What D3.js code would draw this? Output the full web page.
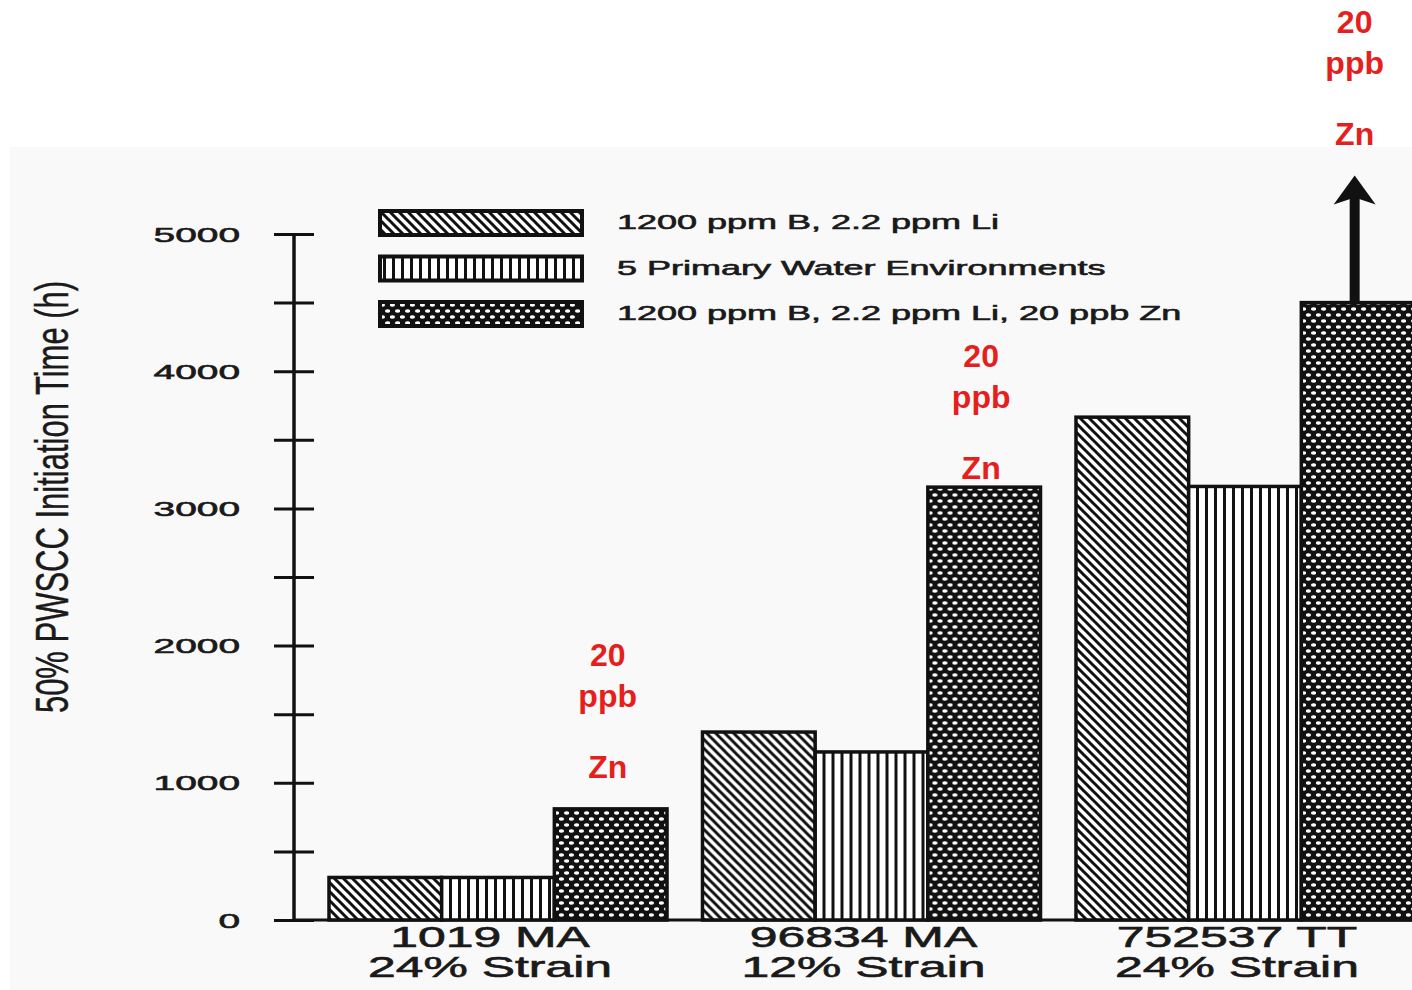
<!DOCTYPE html>
<html>
<head>
<meta charset="utf-8">
<script src="https://cdn.jsdelivr.net/npm/d3@7"></script>
<style>
  body { margin: 0; background: #fff; }
  svg text { font-family: "Liberation Sans", Arial, sans-serif; }
  .ink { fill: #1a1a1a; stroke: #1a1a1a; stroke-width: 0.6px; }
</style>
</head>
<body>
<svg id="chart" width="1412" height="990"></svg>
<script>
// data
var categories = ["1019 MA", "96834 MA", "752537 TT"];
var strains = ["24% Strain", "12% Strain", "24% Strain"];
var seriesNames = ["1200 ppm B, 2.2 ppm Li", "5 Primary Water Environments", "1200 ppm B, 2.2 ppm Li, 20 ppb Zn"];
var boronLithium = [310, 1370, 3665];
var primaryWater = [310, 1225, 3160];
var zincAdded = [810, 3155, 4500];
var majorTicks = [0, 1000, 2000, 3000, 4000, 5000];
var minorTicks = [500, 1500, 2500, 3500, 4500];
var zincNote = ["20", "ppb", "Zn"];

var seriesValues = [boronLithium, primaryWater, zincAdded];
var patternIds = ["diag", "vert", "dots"];
var red = "#e5201c";

var svg = d3.select("#chart"),
    width = +svg.attr("width"),
    height = +svg.attr("height");

// faint scan background
svg.append("rect")
    .attr("x", 10).attr("y", 147)
    .attr("width", width - 10).attr("height", height - 147)
    .attr("fill", "#f9f9f9");

var defs = svg.append("defs");

var diag = defs.append("pattern")
    .attr("id", "diag")
    .attr("patternUnits", "userSpaceOnUse")
    .attr("width", 9).attr("height", 9);
diag.append("rect").attr("width", 9).attr("height", 9).attr("fill", "#fff");
diag.append("path")
    .attr("d", "M-1,-1 L10,10 M-1,8 L1,10 M8,-1 L10,1")
    .attr("stroke", "#111").attr("stroke-width", 3);

var vert = defs.append("pattern")
    .attr("id", "vert")
    .attr("patternUnits", "userSpaceOnUse")
    .attr("width", 9).attr("height", 9);
vert.append("rect").attr("width", 9).attr("height", 9).attr("fill", "#fff");
vert.append("rect").attr("x", 3).attr("width", 3).attr("height", 9).attr("fill", "#111");

var dots = defs.append("pattern")
    .attr("id", "dots")
    .attr("patternUnits", "userSpaceOnUse")
    .attr("width", 10).attr("height", 12);
dots.append("rect").attr("width", 10).attr("height", 12).attr("fill", "#111");
dots.append("ellipse").attr("cx", 2.5).attr("cy", 3).attr("rx", 2.6).attr("ry", 1.8).attr("fill", "#fff");
dots.append("ellipse").attr("cx", 7.5).attr("cy", 9).attr("rx", 2.6).attr("ry", 1.8).attr("fill", "#fff");

var axisX = 294;

var y = d3.scaleLinear()
    .domain([0, 5000])
    .range([920, 234]);

var x0 = d3.scaleBand()
    .domain(categories)
    .range([329, 1414])
    .paddingInner(0.095)
    .paddingOuter(0);

var x1 = d3.scaleBand()
    .domain([0, 1, 2])
    .range([0, x0.bandwidth()])
    .padding(0);

// baseline
svg.append("line")
    .attr("x1", axisX).attr("x2", width)
    .attr("y1", y(0)).attr("y2", y(0))
    .attr("stroke", "#111").attr("stroke-width", 3);

// bars
var groups = svg.append("g")
    .selectAll("g")
    .data(categories)
    .enter().append("g")
    .attr("transform", function (d) {
        return "translate(" + x0(d) + ",0)";
    });

groups.selectAll("rect")
    .data(function (d, i) {
        return seriesValues.map(function (vals, s) {
            return { s: s, v: vals[i] };
        });
    })
    .enter().append("rect")
    .attr("x", function (d) { return x1(d.s); })
    .attr("width", x1.bandwidth())
    .attr("y", function (d) { return y(d.v); })
    .attr("height", function (d) { return y(0) - y(d.v); })
    .attr("fill", function (d) { return "url(#" + patternIds[d.s] + ")"; })
    .attr("stroke", "#111")
    .attr("stroke-width", 3.5);

// y axis, drawn as in the figure: ticks crossing the spine
var axisG = svg.append("g")
    .attr("transform", "translate(" + (axisX + 20) + ",0)")
    .call(d3.axisLeft(y).tickValues(majorTicks.concat(minorTicks)).tickSize(40).tickFormat(""));
axisG.select(".domain").remove();
axisG.selectAll(".tick line").attr("stroke", "#111").attr("stroke-width", 3);

svg.append("line")
    .attr("x1", axisX).attr("x2", axisX)
    .attr("y1", y(5000)).attr("y2", y(0))
    .attr("stroke", "#111").attr("stroke-width", 3.5);

svg.append("g")
    .selectAll("text")
    .data(majorTicks)
    .enter().append("text")
    .attr("class", "ink")
    .attr("transform", function (d) {
        return "translate(240," + (y(d) + 7.5) + ") scale(1.85,1)";
    })
    .attr("text-anchor", "end")
    .style("font-size", "21px")
    .text(function (d) { return d; });

// y axis title
svg.append("text")
    .attr("class", "ink")
    .attr("transform", "translate(68,497) scale(1.5,1) rotate(-90)")
    .attr("text-anchor", "middle")
    .style("stroke-width", "0.3px")
    .style("font-size", "31px")
    .text("50% PWSCC Initiation Time (h)");

// category labels
var catLabels = svg.append("g")
    .selectAll("g")
    .data(categories)
    .enter().append("g");

catLabels.append("text")
    .attr("class", "ink")
    .attr("transform", function (d) {
        return "translate(" + (x0(d) + x0.bandwidth() / 2 - 8) + ",947) scale(1.72,1)";
    })
    .attr("text-anchor", "middle")
    .style("font-size", "29px")
    .text(function (d) { return d; });

catLabels.append("text")
    .attr("class", "ink")
    .attr("transform", function (d, i) {
        return "translate(" + (x0(d) + x0.bandwidth() / 2 - 8) + ",977) scale(1.72,1)";
    })
    .attr("text-anchor", "middle")
    .style("font-size", "29px")
    .text(function (d, i) { return strains[i]; });

// legend
var legend = svg.append("g")
    .selectAll("g")
    .data(seriesNames)
    .enter().append("g")
    .attr("transform", function (d, i) {
        return "translate(380," + (211 + i * 45.5) + ")";
    });

legend.append("rect")
    .attr("width", 202)
    .attr("height", 24)
    .attr("fill", function (d, i) { return "url(#" + patternIds[i] + ")"; })
    .attr("stroke", "#111")
    .attr("stroke-width", 4);

legend.append("text")
    .attr("class", "ink")
    .attr("transform", "translate(237,18) scale(1.8,1)")
    .style("font-size", "20px")
    .text(function (d) { return d; });

// arrow above the last zinc bar (value is a lower bound)
var lastCat = categories[categories.length - 1];
var arrowX = x0(lastCat) + x1(2) + x1.bandwidth() / 2 - 3;
var arrowBase = y(zincAdded[zincAdded.length - 1]);
var arrowTip = arrowBase - 127;

svg.append("line")
    .attr("x1", arrowX).attr("x2", arrowX)
    .attr("y1", arrowBase).attr("y2", arrowTip + 20)
    .attr("stroke", "#111").attr("stroke-width", 10);

svg.append("path")
    .attr("d", "M" + (arrowX - 21) + "," + (arrowTip + 29) +
        " L" + arrowX + "," + arrowTip +
        " L" + (arrowX + 21) + "," + (arrowTip + 29) +
        " L" + arrowX + "," + (arrowTip + 22) + " Z")
    .attr("fill", "#111");

// red zinc annotations
var noteG = svg.append("g")
    .selectAll("g")
    .data(categories)
    .enter().append("g")
    .attr("transform", function (d, i) {
        var top = y(zincAdded[i]);
        if (i === categories.length - 1) {
            top = arrowTip;
        }
        var anchor = top - (i === 1 ? 8 : 31);
        return "translate(" + (x0(d) + x1(2) + x1.bandwidth() / 2 - 3) + "," + anchor + ")";
    });

noteG.selectAll("text")
    .data(zincNote)
    .enter().append("text")
    .attr("y", function (d, k) { return [-112, -71, 0][k]; })
    .attr("text-anchor", "middle")
    .attr("fill", red)
    .style("font-size", "32px")
    .style("font-weight", "bold")
    .text(function (d) { return d; });
</script>
</body>
</html>
